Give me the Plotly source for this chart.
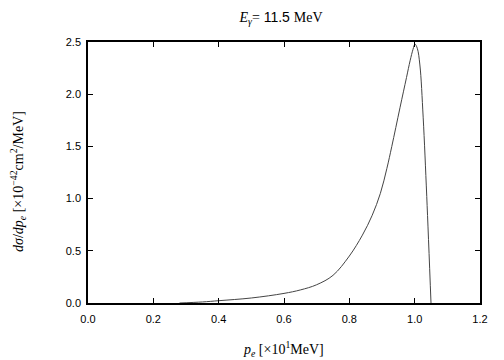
import plotly.graph_objects as go

p_e = [0.28, 0.35, 0.40, 0.50, 0.60, 0.65, 0.70, 0.75, 0.80, 0.84, 0.87, 0.895,
       0.915, 0.93, 0.955, 0.975, 0.986, 0.995, 1.001, 1.008, 1.016, 1.026, 1.037, 1.050]
dsigma = [0.0, 0.01, 0.022, 0.048, 0.092, 0.125, 0.175, 0.265, 0.45, 0.65, 0.84, 1.05,
          1.29, 1.50, 1.87, 2.16, 2.32, 2.43, 2.48, 2.44, 2.28, 1.78, 1.02, 0.0]

x_ticks = [0.0, 0.2, 0.4, 0.6, 0.8, 1.0, 1.2]
y_ticks = [0.0, 0.5, 1.0, 1.5, 2.0, 2.5]

title_text = "<i>E</i><sub><i>γ</i></sub>=<span style='font-family:Liberation Sans'> 11.5 </span>MeV"
x_title = "<i>p<sub>e</sub></i> [×10<sup>1</sup>MeV]"
y_title = "<i>dσ</i>/<i>dp<sub>e</sub></i> [×10<sup>−42</sup>cm<sup>2</sup>/MeV]"

fig = go.Figure()
fig.add_trace(go.Scatter(x=p_e, y=dsigma, mode="lines",
                         line=dict(color="#444444", width=1, shape="spline", smoothing=1.0),
                         showlegend=False, hoverinfo="skip"))

serif = "Liberation Serif"
sans = "Liberation Sans"
axis_common = dict(showline=True, linecolor="black", linewidth=1.5, mirror="ticks",
                   ticks="inside", ticklen=5, tickcolor="black", tickwidth=1,
                   showgrid=False, zeroline=False, automargin=False,
                   tickfont=dict(family=sans, size=11, color="black"))

# page body has an 8px default margin, so the figure is 8px smaller than the window
W, H = 496, 352
L, R, T, B = 80, 24, 34, 57
pw, ph = W - L - R, H - T - B

def px_to_paper_x(sx):
    return (sx - 8 - L) / pw

def px_to_paper_y(sy):
    return (H - B - (sy - 8)) / ph

fig.update_layout(
    width=W, height=H,
    margin=dict(l=L, r=R, t=T, b=B),
    paper_bgcolor="white", plot_bgcolor="white",
    title=dict(text=title_text, x=(281 - 8) / W, xanchor="center",
               y=1 - 9/H, yanchor="middle", font=dict(family=serif, size=14, color="black")),
    xaxis=dict(range=[0, 1.2], tickvals=x_ticks, ticktext=[f"{v:.1f}" for v in x_ticks],
               ticklabelstandoff=5, **axis_common),
    yaxis=dict(range=[0, 2.5], tickvals=y_ticks, ticktext=[f"{v:.1f}" for v in y_ticks],
               ticklabelstandoff=3, **axis_common),
    annotations=[
        dict(text=x_title, xref="paper", yref="paper",
             x=px_to_paper_x(283), y=px_to_paper_y(349), xanchor="center", yanchor="middle",
             showarrow=False, font=dict(family=serif, size=14, color="black")),
        dict(text=y_title, xref="paper", yref="paper", textangle=-90,
             x=px_to_paper_x(18), y=px_to_paper_y(182), xanchor="center", yanchor="middle",
             showarrow=False, font=dict(family=serif, size=14, color="black")),
    ],
)

fig.write_html("out.html")
